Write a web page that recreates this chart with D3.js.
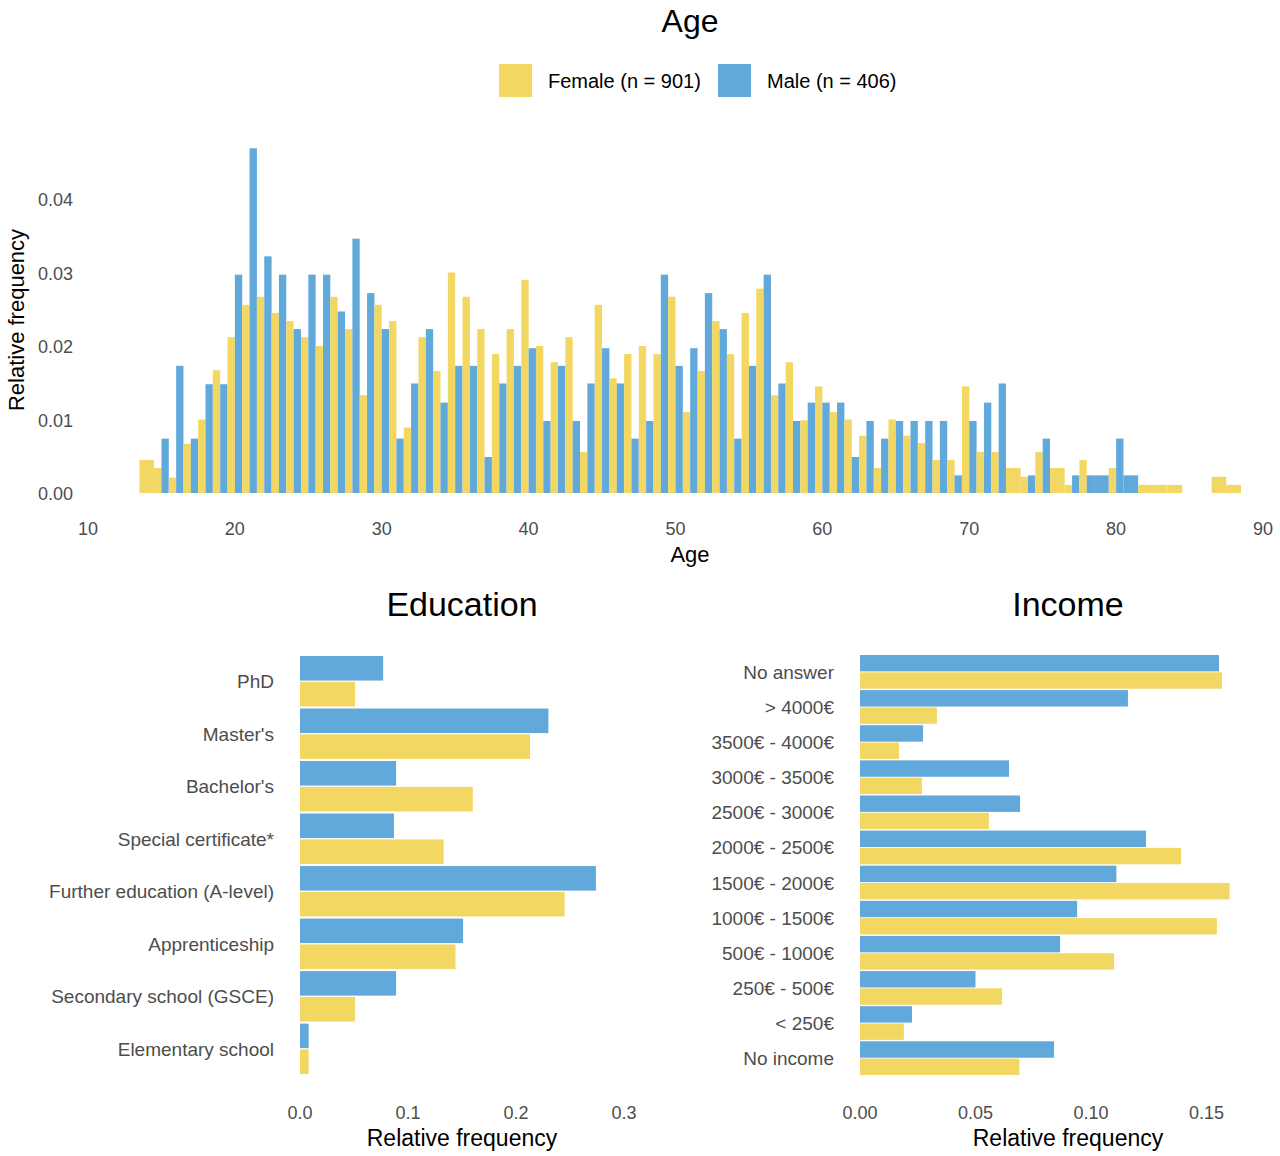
<!DOCTYPE html>
<html>
<head>
<meta charset="utf-8">
<script src="https://cdn.jsdelivr.net/npm/d3@7"></script>
<style>
  body { margin: 0; background: #fff; }
  text { font-family: "Liberation Sans", Arial, sans-serif; }
</style>
</head>
<body>
<div id="chart"></div>
<script>
// age histogram: relative frequency per year of age (0 = no one in that bin)
const ages = d3.range(14, 89);
const ageFemale = [0.0045,0.0034,0.0021,0.0067,0.010,0.0167,0.0212,0.0256,0.0267,0.0245,0.0234,0.0212,0.020,0.0267,0.0223,0.0133,0.0256,0.0234,0.0089,
  0.0212,0.0166,0.030,0.0267,0.0223,0.0189,0.0223,0.029,0.020,0.0178,0.0212,0.0056,0.0256,0.0156,0.0189,0.020,0.0189,0.0267,0.011,
  0.0166,0.0234,0.0189,0.0245,0.0278,0.0133,0.0178,0.0099,0.0145,0.011,0.010,0.0078,0.0034,0.010,0.0078,0.0068,0.0045,0.0045,0.0145,
  0.0056,0.0056,0.0034,0.0022,0.0056,0.0034,0.0011,0.0045,0,0.0034,0,0.0011,0.0011,0.0011,0,0,0.0022,0.0011];
const ageMale = [0,0.0074,0.0173,0.0074,0.0148,0.0148,0.0297,0.0469,0.0322,0.0297,0.0223,0.0297,0.0297,0.0247,0.0346,0.0272,0.0223,0.0074,0.0149,
  0.0223,0.0123,0.0173,0.0173,0.0049,0.0149,0.0173,0.0197,0.0098,0.0173,0.0098,0.0149,0.0197,0.0149,0.0074,0.0098,0.0297,0.0173,0.0197,
  0.0272,0.0223,0.0074,0.0173,0.0297,0.0149,0.0098,0.0123,0.0123,0.0123,0.0049,0.0098,0.0074,0.0098,0.0098,0.0098,0.0098,0.0024,0.0098,
  0.0123,0.0149,0,0.0024,0.0074,0,0.0024,0.0024,0.0024,0.0074,0.0024,0,0,0,0,0,0,0];
const ageTicks = [10,20,30,40,50,60,70,80,90];

const eduCats = ["PhD","Master's","Bachelor's","Special certificate*","Further education (A-level)","Apprenticeship","Secondary school (GSCE)","Elementary school"];
const eduMale = [0.077,0.230,0.089,0.087,0.274,0.151,0.089,0.008];
const eduFemale = [0.051,0.213,0.160,0.133,0.245,0.144,0.051,0.008];

const incCats = ["No answer","> 4000€","3500€ - 4000€","3000€ - 3500€","2500€ - 3000€","2000€ - 2500€","1500€ - 2000€","1000€ - 1500€","500€ - 1000€","250€ - 500€","< 250€","No income"];
const incMale = [0.1554,0.116,0.0273,0.0645,0.0693,0.1238,0.111,0.094,0.0866,0.050,0.0225,0.084];
const incFemale = [0.1567,0.0333,0.0169,0.0268,0.0558,0.139,0.160,0.1545,0.110,0.0615,0.019,0.069];

const colF = "#F2D863", colM = "#62A9DB", tickCol = "#4d4d4d";

const svg = d3.select("#chart").append("svg").attr("width", 1280).attr("height", 1156);

// ---- Age ----
const x = d3.scaleLinear().domain([10, 90]).range([88, 1263]);
const y = d3.scaleLinear().domain([0, 0.04]).range([493, 199]);
const bw = x(1) - x(0);

svg.append("text").attr("x", 690).attr("y", 32).attr("text-anchor", "middle").attr("font-size", 32).text("Age");

const legend = [{k: "Female (n = 901)", c: colF, x: 499}, {k: "Male (n = 406)", c: colM, x: 718}];
legend.forEach(function(d) {
  svg.append("rect").attr("x", d.x).attr("y", 64).attr("width", 33).attr("height", 33).attr("fill", d.c);
  svg.append("text").attr("x", d.x + 49).attr("y", 88).attr("font-size", 20).text(d.k);
});

const ageData = [];
ages.forEach(function(a, i) {
  const f = ageFemale[i], m = ageMale[i];
  if (f > 0 && m > 0) {
    ageData.push({x0: x(a - 0.5), w: bw / 2, v: f, c: colF});
    ageData.push({x0: x(a), w: bw / 2, v: m, c: colM});
  } else if (f > 0) {
    ageData.push({x0: x(a - 0.5), w: bw, v: f, c: colF});
  } else if (m > 0) {
    ageData.push({x0: x(a - 0.5), w: bw, v: m, c: colM});
  }
});
svg.append("g").selectAll("rect").data(ageData).enter().append("rect")
  .attr("x", d => d.x0).attr("width", d => d.w)
  .attr("y", d => y(d.v)).attr("height", d => y(0) - y(d.v))
  .attr("fill", d => d.c);

svg.append("g").selectAll("text").data([0, 0.01, 0.02, 0.03, 0.04]).enter().append("text")
  .attr("x", 73).attr("y", d => y(d) + 7).attr("text-anchor", "end")
  .attr("font-size", 18).attr("fill", tickCol).text(d3.format(".2f"));
svg.append("g").selectAll("text").data(ageTicks).enter().append("text")
  .attr("x", d => x(d)).attr("y", 535).attr("text-anchor", "middle")
  .attr("font-size", 18).attr("fill", tickCol).text(d => d);
svg.append("text").attr("x", 690).attr("y", 562).attr("text-anchor", "middle").attr("font-size", 22).text("Age");
svg.append("text").attr("transform", "translate(24,320) rotate(-90)").attr("text-anchor", "middle")
  .attr("font-size", 22).text("Relative frequency");

// ---- horizontal grouped bars ----
function barPanel(cats, male, female, xDomain, xRange, yRange, ticks, fmt, title, titleX) {
  const bx = d3.scaleLinear().domain(xDomain).range(xRange);
  const by = d3.scaleBand().domain(cats).range(yRange).paddingInner(0.04);
  const sub = d3.scaleBand().domain(["m", "f"]).range([0, by.bandwidth()]).paddingInner(0.05);
  const g = svg.append("g");
  g.append("text").attr("x", titleX).attr("y", 616).attr("text-anchor", "middle").attr("font-size", 34).text(title);
  const rows = g.selectAll("g.row").data(cats).enter().append("g").attr("transform", d => `translate(0,${by(d)})`);
  rows.append("rect").attr("x", bx(0)).attr("y", sub("m")).attr("height", sub.bandwidth())
    .attr("width", (d, i) => bx(male[i]) - bx(0)).attr("fill", colM);
  rows.append("rect").attr("x", bx(0)).attr("y", sub("f")).attr("height", sub.bandwidth())
    .attr("width", (d, i) => bx(female[i]) - bx(0)).attr("fill", colF);
  rows.append("text").attr("x", bx(0) - 26).attr("y", by.bandwidth() / 2 + 7).attr("text-anchor", "end")
    .attr("font-size", 19).attr("fill", tickCol).text(d => d);
  g.selectAll("text.tick").data(ticks).enter().append("text")
    .attr("x", d => bx(d)).attr("y", 1119).attr("text-anchor", "middle")
    .attr("font-size", 18).attr("fill", tickCol).text(fmt);
  g.append("text").attr("x", titleX).attr("y", 1146).attr("text-anchor", "middle").attr("font-size", 23).text("Relative frequency");
}

barPanel(eduCats, eduMale, eduFemale, [0, 0.3], [300, 624], [656, 1074], [0, 0.1, 0.2, 0.3], d3.format(".1f"), "Education", 462);
barPanel(incCats, incMale, incFemale, [0, 0.15], [860, 1206.5], [655, 1075], [0, 0.05, 0.10, 0.15], d3.format(".2f"), "Income", 1068);
</script>
</body>
</html>
